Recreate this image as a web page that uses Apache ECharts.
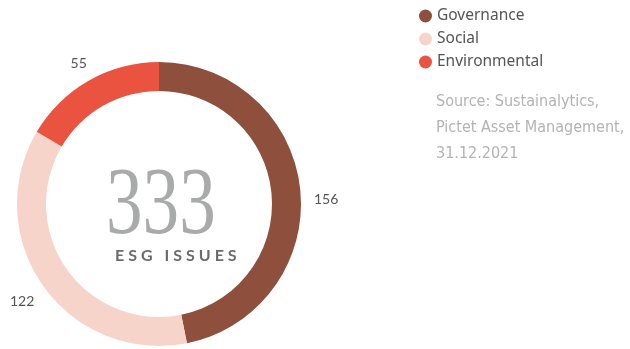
<!doctype html>
<html>
<head>
<meta charset="UTF-8">
<title>ESG issues</title>
<script src="https://cdn.jsdelivr.net/npm/echarts@6/dist/echarts.min.js"></script>
<style>
  html, body { margin: 0; padding: 0; background: #fff; }
  #main { width: 630px; height: 349px; }
</style>
</head>
<body>
<div id="main"></div>
<script>
// data
var categories = ['Governance', 'Social', 'Environmental'];
var values = [156, 122, 55];
var colors = ['#8e4f3d', '#f7d4c9', '#e9533f'];
var sourceLines = ['Source: Sustainalytics,', 'Pictet Asset Management,', '31.12.2021'];

var total = values.reduce(function (a, b) { return a + b; }, 0);

var pieData = categories.map(function (name, i) {
  return { name: name, value: values[i], itemStyle: { color: colors[i] } };
});
// same data, invisible ring, only used to place the value labels
var labelData = categories.map(function (name, i) {
  return { name: name, value: values[i] };
});

// spaced caps for the subtitle
var subTitle = 'ESG ISSUES'.split('').join('\u2005');

var chart = echarts.init(document.getElementById('main'));
chart.setOption({
  animation: false,
  legend: {
    orient: 'vertical',
    left: 414,
    top: 3,
    icon: 'circle',
    itemWidth: 13,
    itemHeight: 13,
    itemGap: 7,
    selectedMode: false,
    textStyle: { fontFamily: 'Noto Sans', fontSize: 15.5, color: '#555', padding: [0, 0, 0, 0] },
    data: categories
  },
  graphic: [
    {
      type: 'text',
      left: 106,
      top: 161,
      scaleX: 0.77,
      style: { text: String(total), font: '95px "Liberation Serif"', fill: '#a9abaa' }
    },
    {
      type: 'text',
      left: 115,
      top: 248,
      style: { text: subTitle, font: 'bold 16px Lato', fill: '#6b6b6b' }
    },
    {
      type: 'text',
      left: 436,
      top: 89,
      style: {
        text: sourceLines.join('\n'),
        font: '16px "DejaVu Sans Condensed"',
        lineHeight: 26,
        fill: '#b3b3b3'
      }
    }
  ],
  series: [
    {
      type: 'pie',
      center: [159, 204],
      radius: [113, 142],
      startAngle: 90,
      clockwise: true,
      silent: true,
      label: { show: false },
      labelLine: { show: false },
      data: pieData
    },
    {
      type: 'pie',
      center: [159, 204],
      radius: [156, 174],
      startAngle: 90,
      clockwise: true,
      silent: true,
      itemStyle: { color: 'transparent' },
      label: {
        show: true,
        position: 'inside',
        formatter: '{c}',
        fontFamily: 'Lato',
        fontSize: 14,
        color: '#555'
      },
      labelLayout: function (p) {
        if (p.dataIndex === 0) return { dy: 12 };
        if (p.dataIndex === 2) return { dx: 3, dy: 5 };
        return {};
      },
      labelLine: { show: false },
      data: labelData
    }
  ]
});
</script>
</body>
</html>
